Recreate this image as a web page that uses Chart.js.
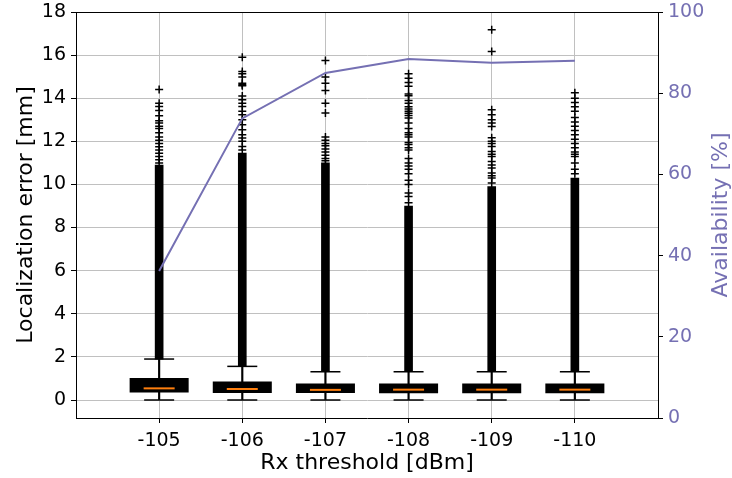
<!DOCTYPE html>
<html><head><meta charset="utf-8">
<script src="https://cdn.jsdelivr.net/npm/chart.js@4"></script>
<style>html,body{margin:0;padding:0;background:#fff}#wrap{width:732px;height:478px}</style>
</head><body><div id="wrap"><canvas id="c" width="732" height="478"></canvas></div>
<script>
// ---- data ----
const categories = ['-105', '-106', '-107', '-108', '-109', '-110'];
const q1 = [0.35, 0.32, 0.32, 0.31, 0.31, 0.31];
const median = [0.54, 0.51, 0.47, 0.48, 0.48, 0.48];
const q3 = [1.02, 0.86, 0.76, 0.76, 0.76, 0.76];
const whiskLo = [0, 0, 0, 0, 0, 0];
const whiskHi = [1.90, 1.56, 1.31, 1.31, 1.31, 1.31];
// top of the densely packed flier run (continuous black column)
const denseTop = [10.9, 11.45, 11.0, 9.0, 9.9, 10.3];
// individually visible fliers above the dense run
const fliers105 = [14.4, 13.77, 13.62, 13.43, 13.19, 12.95, 12.85, 12.7, 12.6, 12.4, 12.2, 12.05, 11.9, 11.75, 11.6, 11.45, 11.3, 11.15, 11.0];
const fliers106 = [15.9, 15.24, 15.13, 14.98, 14.7, 14.62, 14.58, 14.1, 13.93, 13.77, 13.62, 13.39, 13.23, 13.0, 12.77, 12.54, 12.3, 12.15, 12.0, 11.76, 11.6];
const fliers107 = [15.75, 14.98, 14.7, 14.36, 13.77, 13.31, 12.2, 12.05, 11.9, 11.8, 11.65, 11.5, 11.35, 11.2, 11.1];
const fliers108 = [15.13, 14.93, 14.73, 14.55, 14.2, 14.11, 13.9, 13.77, 13.6, 13.5, 13.4, 13.3, 13.2, 13.08, 12.85, 12.6, 12.4, 12.3, 12.2, 11.95, 11.85, 11.7, 11.6, 11.2, 11.0, 10.85, 10.7, 10.5, 10.2, 10.0, 9.6, 9.44, 9.15];
const fliers109 = [17.18, 16.17, 13.46, 13.23, 13.0, 12.85, 12.69, 12.17, 12.0, 11.9, 11.76, 11.53, 11.4, 11.3, 11.07, 10.9, 10.76, 10.53, 10.4, 10.3, 10.07];
const fliers110 = [14.25, 14.0, 13.8, 13.6, 13.4, 13.1, 12.9, 12.7, 12.5, 12.3, 12.1, 11.9, 11.7, 11.5, 11.4, 11.3, 11.0, 10.7, 10.5];
const availability = [36.2, 73.8, 85.0, 88.4, 87.5, 88.0];
const yTickValues = [0, 2, 4, 6, 8, 10, 12, 14, 16, 18];
const y2TickValues = [0, 20, 40, 60, 80, 100];
const xTitle = 'Rx threshold [dBm]';
const yTitle = 'Localization error [mm]';
const y2Title = 'Availability [%]';

// ---- styling ----
const FONT = 'DejaVu Sans';
const PURPLE = '#7570b3';
const GRID = '#c0c0c0';

const positions = categories.map((_, i) => i + 1);
const allFliers = [fliers105, fliers106, fliers107, fliers108, fliers109, fliers110];

const boxData = positions.map((x, i) => ({x, y: [q1[i], q3[i]]}));
const whiskerData = positions.map((x, i) => ({x, y: [whiskLo[i], whiskHi[i]]}));
const denseData = positions.map((x, i) => ({x, y: [whiskHi[i], denseTop[i]]}));
const medianData = positions.map((x, i) => ({x, y: median[i]}));
const capData = positions.flatMap((x, i) => [{x, y: whiskLo[i]}, {x, y: whiskHi[i]}]);
const flierData = positions.flatMap((x, i) => allFliers[i].map(v => ({x, y: v})));
const availData = positions.map((x, i) => ({x, y: availability[i]}));

const noPad = s => { s.paddingTop = 0; s.paddingBottom = 0; s.paddingLeft = 0; s.paddingRight = 0; };

const frameAndTitle = {
  id: 'frameAndTitle',
  afterDraw(chart) {
    const {ctx, chartArea} = chart;
    ctx.save();
    // top spine
    ctx.strokeStyle = '#000';
    ctx.lineWidth = 1;
    ctx.beginPath();
    ctx.moveTo(chartArea.left, chartArea.top + 0.5);
    ctx.lineTo(chartArea.right, chartArea.top + 0.5);
    ctx.stroke();
    // right axis title (reads bottom-to-top like the reference)
    ctx.translate(chartArea.right + 63, (chartArea.top + chartArea.bottom) / 2);
    ctx.rotate(-Math.PI / 2);
    ctx.font = '22px "' + FONT + '"';
    ctx.fillStyle = PURPLE;
    ctx.textAlign = 'center';
    ctx.textBaseline = 'middle';
    ctx.fillText(y2Title, 0, 0);
    ctx.restore();
  }
};

new Chart(document.getElementById('c'), {
  type: 'scatter',
  data: {
    datasets: [
      {type: 'line', data: availData, yAxisID: 'y2', borderColor: PURPLE, borderWidth: 2, pointRadius: 0, tension: 0, fill: false},
      {type: 'scatter', data: medianData, yAxisID: 'y', pointStyle: 'line', pointRadius: 15.5, borderColor: '#ff7f0e', borderWidth: 2},
      {type: 'scatter', data: capData, yAxisID: 'y', pointStyle: 'line', pointRadius: 15, borderColor: '#000', borderWidth: 1.5},
      {type: 'scatter', data: flierData, yAxisID: 'y', pointStyle: 'cross', pointRadius: 4, borderColor: '#000', borderWidth: 1.5},
      {type: 'bar', data: denseData, yAxisID: 'y', barThickness: 8, backgroundColor: '#000', grouped: false},
      {type: 'bar', data: boxData, yAxisID: 'y', barPercentage: 0.71, categoryPercentage: 1, backgroundColor: '#000', grouped: false},
      {type: 'bar', data: whiskerData, yAxisID: 'y', barThickness: 1.5, backgroundColor: '#000', grouped: false}
    ]
  },
  options: {
    responsive: false,
    animation: false,
    devicePixelRatio: 1,
    layout: {autoPadding: false, padding: {top: 12, left: 0, right: 0, bottom: 0}},
    plugins: {legend: {display: false}, tooltip: {enabled: false}},
    scales: {
      x: {
        type: 'linear', position: 'bottom', min: 0, max: 7, offset: false,
        afterBuildTicks: s => { s.ticks = positions.map(v => ({value: v})); },
        afterFit: s => { s.height = 60; noPad(s); },
        ticks: {callback: v => categories[Math.round(v) - 1] ?? '', font: {family: FONT, size: 19}, color: '#000', padding: 7, maxRotation: 0, autoSkip: false},
        grid: {color: GRID, lineWidth: 1, tickColor: '#000', tickLength: 5, offset: false},
        border: {color: '#000', width: 1},
        title: {display: true, text: xTitle, font: {family: FONT, size: 22}, color: '#000', padding: {top: 0, bottom: 2}}
      },
      y: {
        type: 'linear', position: 'left', min: -0.835, max: 18,
        afterBuildTicks: s => { s.ticks = yTickValues.map(v => ({value: v})); },
        afterFit: s => { s.width = 76; noPad(s); },
        ticks: {font: {family: FONT, size: 19}, color: '#000', padding: 5},
        grid: {color: GRID, lineWidth: 1, tickColor: '#000', tickLength: 5},
        border: {color: '#000', width: 1},
        title: {display: true, text: yTitle, font: {family: FONT, size: 22}, color: '#000', padding: {top: 13, bottom: 0}}
      },
      y2: {
        type: 'linear', position: 'right', min: 0, max: 100,
        afterBuildTicks: s => { s.ticks = y2TickValues.map(v => ({value: v})); },
        afterFit: s => { s.width = 74; noPad(s); },
        ticks: {font: {family: FONT, size: 19}, color: PURPLE, padding: 5},
        grid: {drawOnChartArea: false, tickColor: '#000', tickLength: 5},
        border: {color: '#000', width: 1}
      }
    }
  },
  plugins: [frameAndTitle]
});
</script>
</body></html>
